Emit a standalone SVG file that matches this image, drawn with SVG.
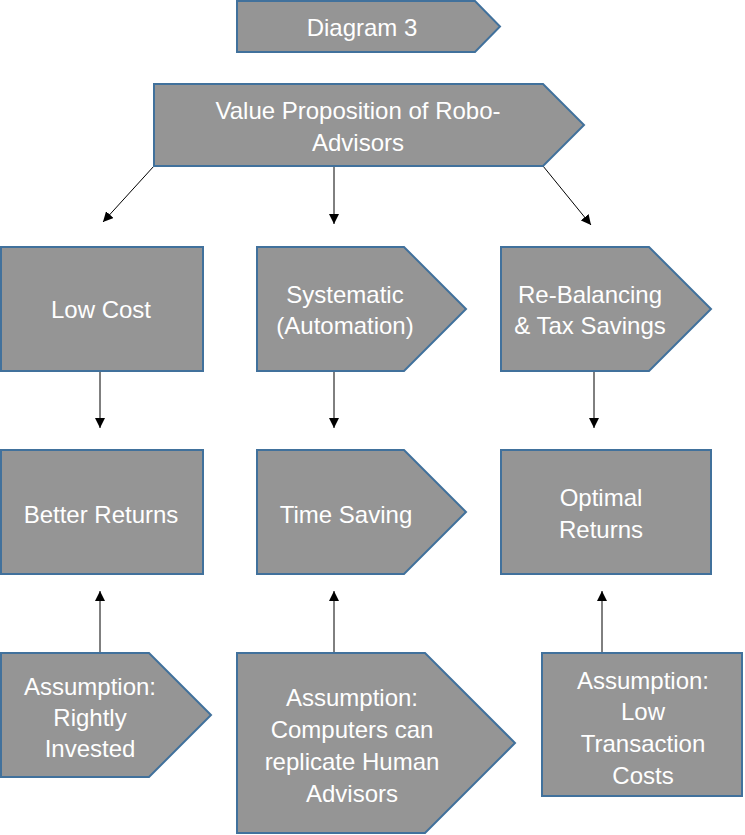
<svg xmlns="http://www.w3.org/2000/svg" width="745" height="835" viewBox="0 0 745 835">
<style>
.n{fill:#959595;stroke:#41719C;stroke-width:2}
.t{fill:#fff;font-family:"Liberation Sans",Arial,sans-serif;font-size:24px;text-anchor:middle;dominant-baseline:central}
.c{stroke:#000;stroke-width:1;fill:none;marker-end:url(#a)}
</style>
<defs>
<marker id="a" viewBox="0 0 10 10" refX="10" refY="5" markerWidth="10" markerHeight="10" markerUnits="userSpaceOnUse" orient="auto">
<path d="M0,0L10,5L0,10z" fill="#000"/>
</marker>
</defs>
<rect width="745" height="835" fill="#fff"/>
<g id="connectors">
<line class="c" x1="154" y1="166" x2="103" y2="222"/>
<line class="c" x1="334" y1="166" x2="334" y2="224"/>
<line class="c" x1="543" y1="166" x2="591" y2="225"/>
<line class="c" x1="100" y1="371" x2="100" y2="428"/>
<line class="c" x1="334" y1="371" x2="334" y2="428"/>
<line class="c" x1="594" y1="371" x2="594" y2="428"/>
<line class="c" x1="100" y1="653" x2="100" y2="591"/>
<line class="c" x1="334" y1="653" x2="334" y2="591"/>
<line class="c" x1="602" y1="653" x2="602" y2="591"/>
</g>
<g id="title">
<path class="n" d="M237,1H475L500,26.5L475,52H237Z"/>
<text class="t" x="362" y="27">Diagram 3</text>
</g>
<g id="value">
<path class="n" d="M154,84H543L584,125L543,166H154Z"/>
<text class="t" x="358" y="110">Value Proposition of Robo-</text>
<text class="t" x="358" y="142">Advisors</text>
</g>
<g id="lowcost">
<rect class="n" x="1" y="247" width="202" height="124"/>
<text class="t" x="101" y="309">Low Cost</text>
</g>
<g id="systematic">
<path class="n" d="M257,247H404L466,309L404,371H257Z"/>
<text class="t" x="345" y="294">Systematic</text>
<text class="t" x="345" y="325">(Automation)</text>
</g>
<g id="rebalancing">
<path class="n" d="M501,247H649L711,309L649,371H501Z"/>
<text class="t" x="590" y="294">Re-Balancing</text>
<text class="t" x="590" y="325">&amp; Tax Savings</text>
</g>
<g id="better">
<rect class="n" x="1" y="450" width="202" height="124"/>
<text class="t" x="101" y="514">Better Returns</text>
</g>
<g id="timesaving">
<path class="n" d="M257,450H404L466,512L404,574H257Z"/>
<text class="t" x="346" y="514">Time Saving</text>
</g>
<g id="optimal">
<rect class="n" x="501" y="450" width="210" height="124"/>
<text class="t" x="601" y="497">Optimal</text>
<text class="t" x="601" y="529">Returns</text>
</g>
<g id="assume1">
<path class="n" d="M1,653H149L211,715L149,777H1Z"/>
<text class="t" x="90" y="686">Assumption:</text>
<text class="t" x="90" y="717">Rightly</text>
<text class="t" x="90" y="748">Invested</text>
</g>
<g id="assume2">
<path class="n" d="M237,653H425L515,743L425,833H237Z"/>
<text class="t" x="352" y="697">Assumption:</text>
<text class="t" x="352" y="729">Computers can</text>
<text class="t" x="352" y="761">replicate Human</text>
<text class="t" x="352" y="793">Advisors</text>
</g>
<g id="assume3">
<rect class="n" x="542" y="653" width="200" height="143"/>
<text class="t" x="643" y="680">Assumption:</text>
<text class="t" x="643" y="711">Low</text>
<text class="t" x="643" y="743">Transaction</text>
<text class="t" x="643" y="775">Costs</text>
</g>
</svg>
